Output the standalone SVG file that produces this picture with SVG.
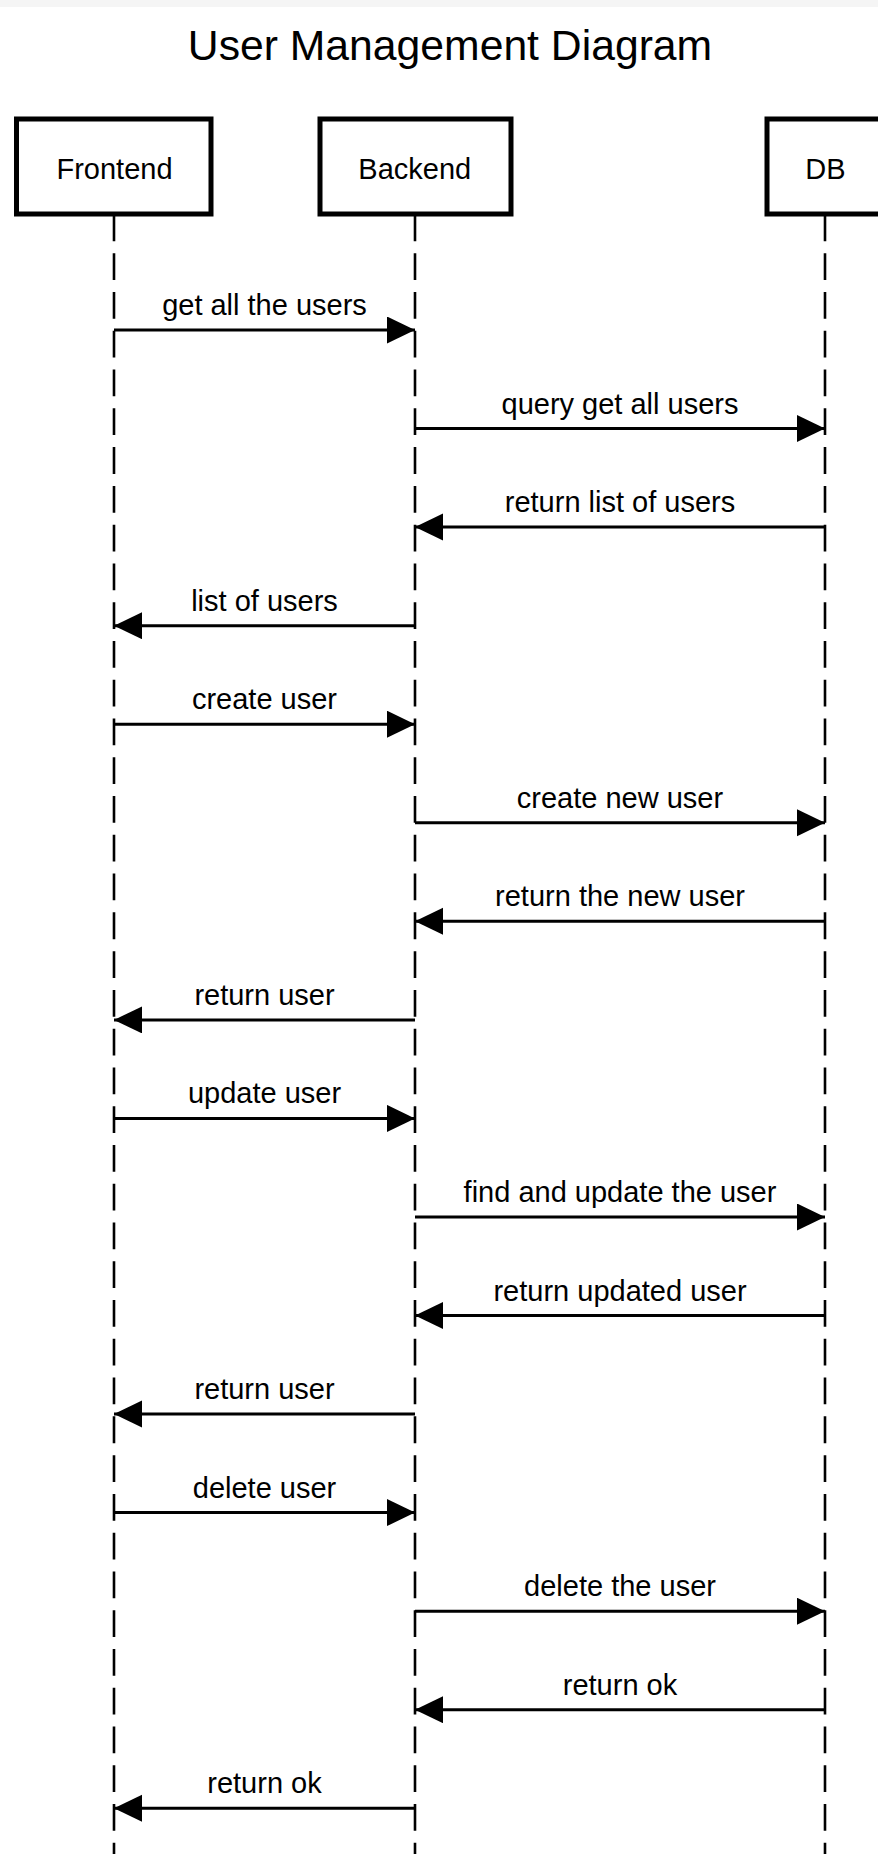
<svg xmlns="http://www.w3.org/2000/svg" width="878" height="1854" viewBox="0 0 878 1854">
<style>
.bg{fill:#ffffff}
.band{fill:#f5f5f5}
.title{font-family:"Liberation Sans",Arial,sans-serif;font-size:42.7px;fill:#000;text-anchor:middle}
.box{fill:#ffffff;stroke:#000;stroke-width:5}
.ptext{font-family:"Liberation Sans",Arial,sans-serif;font-size:29px;fill:#000;text-anchor:middle}
.life{stroke:#000;stroke-width:2.6;stroke-dasharray:26.77 12;fill:none}
.msg{stroke:#000;stroke-width:3;fill:none;marker-end:url(#head)}
.mtext{font-family:"Liberation Sans",Arial,sans-serif;font-size:29px;fill:#000;text-anchor:middle}
</style>
<defs>
<marker id="head" markerUnits="userSpaceOnUse" markerWidth="30" markerHeight="28" refX="28" refY="13.5" orient="auto">
<path d="M0,0 L28,13.5 L0,27 Z" fill="#000"/>
</marker>
</defs>
<rect class="bg" x="0" y="0" width="878" height="1854"/>
<rect class="band" x="0" y="0" width="878" height="7"/>
<text class="title" x="450" y="60">User Management Diagram</text>
<g id="lifelines">
<line class="life" x1="114" y1="214.5" x2="114" y2="1854"/>
<line class="life" x1="415" y1="214.5" x2="415" y2="1854"/>
<line class="life" x1="825" y1="214.5" x2="825" y2="1854"/>
</g>
<g id="frontend">
<rect class="box" x="16.5" y="119" width="194.5" height="95"/>
<text class="ptext" x="114.5" y="179.3">Frontend</text>
</g>
<g id="backend">
<rect class="box" x="320" y="119" width="191" height="95"/>
<text class="ptext" x="414.8" y="179.3">Backend</text>
</g>
<g id="db">
<rect class="box" x="767" y="119" width="200" height="95"/>
<text class="ptext" x="825.5" y="179.3">DB</text>
</g>
<g id="connectors">
<line class="msg" x1="114" y1="330" x2="415" y2="330"/>
<line class="msg" x1="415" y1="428.6" x2="825" y2="428.6"/>
<line class="msg" x1="825" y1="527.1" x2="415" y2="527.1"/>
<line class="msg" x1="415" y1="625.7" x2="114" y2="625.7"/>
<line class="msg" x1="114" y1="724.2" x2="415" y2="724.2"/>
<line class="msg" x1="415" y1="822.8" x2="825" y2="822.8"/>
<line class="msg" x1="825" y1="921.3" x2="415" y2="921.3"/>
<line class="msg" x1="415" y1="1019.9" x2="114" y2="1019.9"/>
<line class="msg" x1="114" y1="1118.4" x2="415" y2="1118.4"/>
<line class="msg" x1="415" y1="1217" x2="825" y2="1217"/>
<line class="msg" x1="825" y1="1315.5" x2="415" y2="1315.5"/>
<line class="msg" x1="415" y1="1414.1" x2="114" y2="1414.1"/>
<line class="msg" x1="114" y1="1512.6" x2="415" y2="1512.6"/>
<line class="msg" x1="415" y1="1611.2" x2="825" y2="1611.2"/>
<line class="msg" x1="825" y1="1709.7" x2="415" y2="1709.7"/>
<line class="msg" x1="415" y1="1808.3" x2="114" y2="1808.3"/>
<text class="mtext" x="264.5" y="315">get all the users</text>
<text class="mtext" x="620" y="413.6">query get all users</text>
<text class="mtext" x="620" y="512.1">return list of users</text>
<text class="mtext" x="264.5" y="610.7">list of users</text>
<text class="mtext" x="264.5" y="709.2">create user</text>
<text class="mtext" x="620" y="807.8">create new user</text>
<text class="mtext" x="620" y="906.3">return the new user</text>
<text class="mtext" x="264.5" y="1004.9">return user</text>
<text class="mtext" x="264.5" y="1103.4">update user</text>
<text class="mtext" x="620" y="1202">find and update the user</text>
<text class="mtext" x="620" y="1300.5">return updated user</text>
<text class="mtext" x="264.5" y="1399.1">return user</text>
<text class="mtext" x="264.5" y="1497.6">delete user</text>
<text class="mtext" x="620" y="1596.2">delete the user</text>
<text class="mtext" x="620" y="1694.7">return ok</text>
<text class="mtext" x="264.5" y="1793.3">return ok</text>
</g>
</svg>
